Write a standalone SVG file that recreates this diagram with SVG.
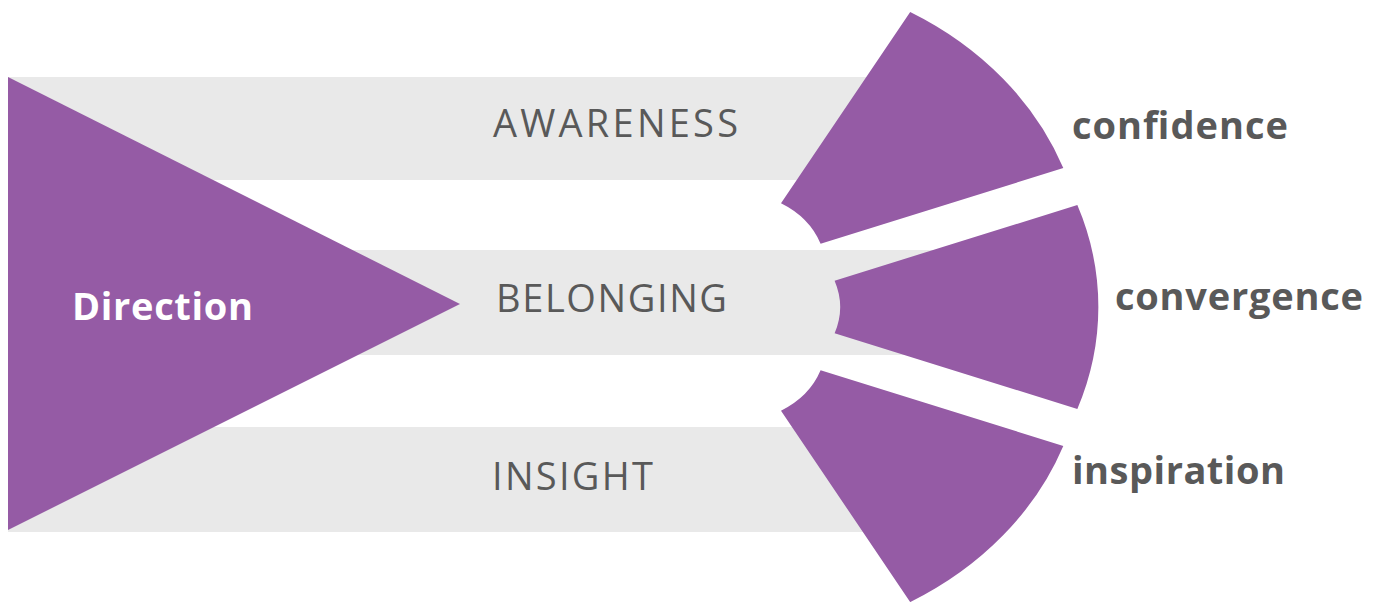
<svg xmlns="http://www.w3.org/2000/svg" width="1380" height="602" viewBox="0 0 1380 602">
  <style>
    .band { fill: #E9E9E9; }
    .purple { fill: #955BA5; }
    .lbl { font-family: "Open Sans", "Liberation Sans", sans-serif; font-size: 38px; fill: #595959; }
    .out { font-family: "Open Sans", "Liberation Sans", sans-serif; font-size: 38px; font-weight: bold; fill: #595959; }
    .dir { font-family: "Open Sans", "Liberation Sans", sans-serif; font-size: 38px; font-weight: bold; fill: #FFFFFF; }
  </style>
  <rect width="1380" height="602" fill="#FFFFFF"/>
  <g id="band-awareness">
    <rect class="band" x="8" y="77" width="942" height="103"/>
    <text class="lbl" x="493" y="137" textLength="245" lengthAdjust="spacing">AWARENESS</text>
  </g>
  <g id="band-belonging">
    <rect class="band" x="8" y="250" width="942" height="105"/>
    <text class="lbl" x="496" y="312" textLength="231" lengthAdjust="spacing">BELONGING</text>
  </g>
  <g id="band-insight">
    <rect class="band" x="8" y="427" width="942" height="105"/>
    <text class="lbl" x="492" y="490" textLength="161" lengthAdjust="spacing">INSIGHT</text>
  </g>
  <g id="direction">
    <polygon class="purple" points="8,77 460,304 8,530"/>
    <text class="dir" x="72" y="320" textLength="181" lengthAdjust="spacing">Direction</text>
  </g>
  <g id="confidence">
    <path class="purple" d="M 781.0 203.3 L 910.2 11.9 A 348.36 298 0 0 1 1063.3 168.1 L 820.6 243.7 A 90.01 77 0 0 0 781.0 203.3 Z"/>
    <text class="out" x="1072" y="139" textLength="216" lengthAdjust="spacing">confidence</text>
  </g>
  <g id="convergence">
    <path class="purple" d="M 834.6 280.66 L 1077.35 205.08 A 348.36 298 0 0 1 1077.35 408.92 L 834.6 333.34 A 90.01 77 0 0 0 834.6 280.66 Z"/>
    <text class="out" x="1115" y="310" textLength="248" lengthAdjust="spacing">convergence</text>
  </g>
  <g id="inspiration">
    <path class="purple" d="M 820.6 370.3 L 1063.3 445.9 A 348.36 298 0 0 1 910.2 602.1 L 781.0 410.7 A 90.01 77 0 0 0 820.6 370.3 Z"/>
    <text class="out" x="1072" y="484" textLength="213" lengthAdjust="spacing">inspiration</text>
  </g>
  <g id="connectors"/>
</svg>
